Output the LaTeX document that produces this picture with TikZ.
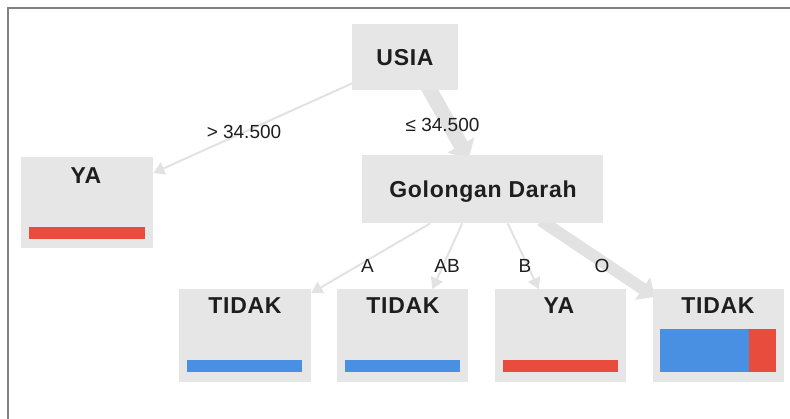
\documentclass[tikz,border=0pt]{standalone}
\usepackage{fontspec}
\setmainfont{Liberation Sans}
\newfontfamily\titlefont[LetterSpace=3]{Liberation Sans}
\usetikzlibrary{arrows.meta,calc,backgrounds}
\definecolor{boxgray}{HTML}{E6E6E6}
\definecolor{edgegray}{HTML}{E2E2E2}
\definecolor{barred}{HTML}{E74C3C}
\definecolor{barblue}{HTML}{4A90E2}
\definecolor{txt}{HTML}{1E1E1E}
\definecolor{framegray}{HTML}{808080}
\begin{document}
\begin{tikzpicture}[x=1pt,y=-1pt,
  box/.style={fill=boxgray, draw=none, inner sep=0pt, anchor=north west},
  title/.style={font=\titlefont\fontsize{23}{27}\selectfont\bfseries, text=txt, inner sep=0pt, anchor=base},
  lab/.style={font=\fontsize{19}{23}\selectfont, text=txt, inner sep=0pt, anchor=base},
  thinedge/.style={draw=edgegray, line width=2pt, -{Triangle[length=11pt,width=13pt]}},
  thickedge/.style={draw=edgegray, -{Triangle[length=16pt,width=30pt]}}]
\useasboundingbox (0,0) rectangle (790,419);
\draw[framegray, line width=1.5pt] (8,419) -- (8,8) -- (790,8);

% boxes
\node[box, minimum width=106pt, minimum height=66pt] (usia) at (352,24) {};
\node[box, minimum width=132pt, minimum height=91pt] (ya1) at (21,157) {};
\node[box, minimum width=241pt, minimum height=68pt] (gol) at (362,155) {};
\node[box, minimum width=132pt, minimum height=93pt] (t1) at (179,289) {};
\node[box, minimum width=131pt, minimum height=93pt] (t2) at (337,289) {};
\node[box, minimum width=131pt, minimum height=93pt] (ya2) at (495,289) {};
\node[box, minimum width=131pt, minimum height=93pt] (t3) at (653,289) {};

% titles
\node[title] (usiat) at (405,66) {USIA};
\node[title] (ya1t) at (86,184) {YA};
\node[title] (golt) at (483,198) {Golongan Darah};
\node[title] (t1t) at (245,314) {TIDAK};
\node[title] (t2t) at (403,314) {TIDAK};
\node[title] (ya2t) at (559,314) {YA};
\node[title] (t3t) at (718,314) {TIDAK};

% bars
\fill[barred] (29,227) rectangle (145,239);
\fill[barblue] (187,360) rectangle (302,372);
\fill[barblue] (345,360) rectangle (460,372);
\fill[barred] (503,360) rectangle (618,372);
\fill[barblue] (660,329) rectangle (749,372);
\fill[barred] (749,329) rectangle (776,372);

% edges
\begin{pgfonlayer}{background}
\draw[thinedge] ([yshift=7pt]usia.south west) -- ([yshift=-16pt]ya1.north east);
\draw[thickedge, line width=15pt] ([xshift=22pt,yshift=5pt]usia.south) -- ([xshift=-14pt,yshift=-4pt]gol.north);
\draw[thinedge] ([xshift=-52.5pt]gol.south) -- ([yshift=-4pt]t1.north east);
\draw[thinedge] ([xshift=-20.5pt]gol.south) -- ([xshift=-36pt]t2.north east);
\draw[thinedge] ([xshift=25pt]gol.south) -- ([xshift=-22pt]ya2.north);
\draw[draw=edgegray, line width=12pt, -{Triangle[length=15pt,width=26pt]}] ([xshift=58pt,yshift=3pt]gol.south) -- ([xshift=2pt,yshift=-8pt]t3.north west);
\end{pgfonlayer}

% edge labels
\node[lab] (l1) at (244,139) {> 34.500};
\node[lab] (l2) at (442.5,132) {≤ 34.500};
\node[lab] (la) at (367.5,273) {A};
\node[lab] (lab) at (447,273) {AB};
\node[lab] (lb) at (525,273) {B};
\node[lab] (lo) at (602,273) {O};
\end{tikzpicture}
\end{document}
